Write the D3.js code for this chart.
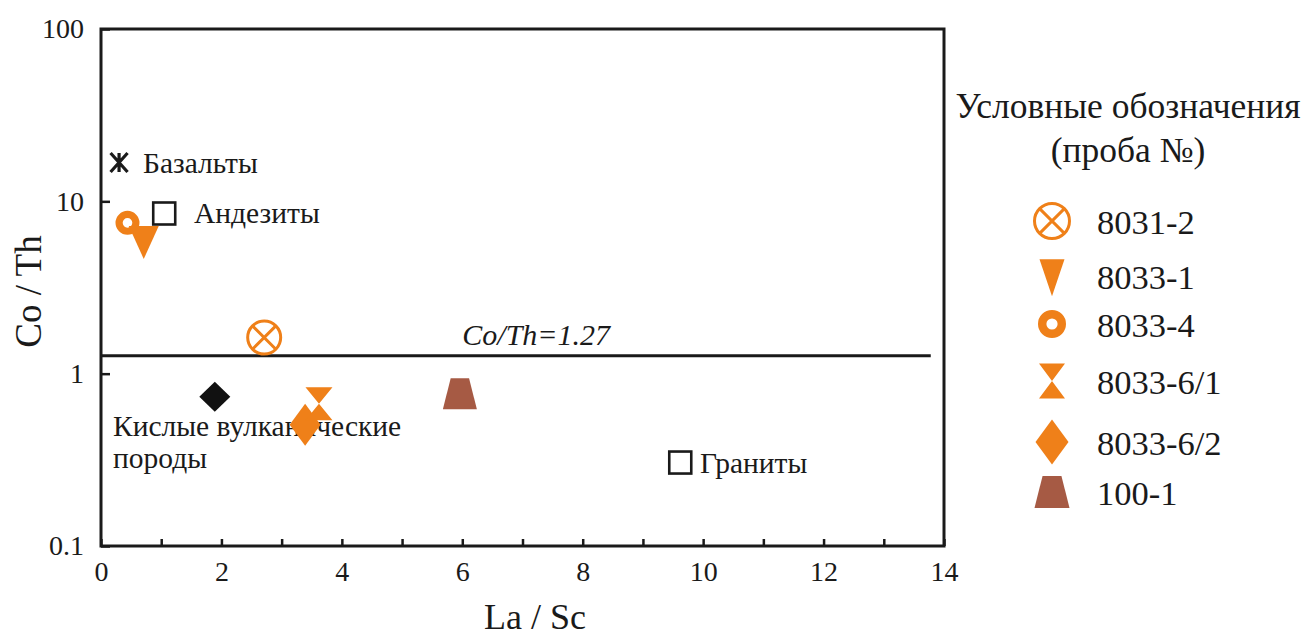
<!DOCTYPE html>
<html><head><meta charset="utf-8">
<script src="https://cdn.jsdelivr.net/npm/d3@7"></script>
<style>body{margin:0;background:#fff;}</style>
</head><body>
<svg id="c" width="1302" height="639"></svg>
<script>
// ---- data ----
const xTicks = [0,1,2,3,4,5,6,7,8,9,10,11,12,13,14];
const xTickLabels = [0,2,4,6,8,10,12,14];
const yTicks = [0.1,1,10,100];
const yTickLabels = ["0.1","1","10","100"];

const samples = ["8031-2","8033-1","8033-4","8033-6/1","8033-6/2","100-1"];
const sampleX = [2.71, 0.71, 0.44, 3.62, 3.39, 5.96];
const sampleY = [1.62, 5.9, 7.5, 0.67, 0.505, 0.765];
const sampleShape = ["circlex","tridown","ring","hourglass","diamond","trapezoid"];
const sampleColor = ["#EF8019","#EF8019","#EF8019","#EF8019","#EF8019","#A65A44"];

const refNames = ["Базальты","Андезиты","Кислые вулканические породы","Граниты"];
const refX = [0.30, 1.05, 1.89, 9.62];
const refY = [16.8, 8.5, 0.735, 0.305];
const refShape = ["asterisk","square","blackdiamond","square"];

const ratioValue = 1.27;
const ratioXRange = [0, 13.78];
const ratioLabelX = 6.0;

// ---- layout ----
const FONT = "'Liberation Serif','Times New Roman',serif";
const svg = d3.select("#c");
const L=101, R=944, T=29, B=546;
const x = d3.scaleLinear().domain([0,14]).range([L,R]);
const y = d3.scaleLog().domain([0.1,100]).range([B,T]);

function txt(xp, yp, s, size, anchor){
  return svg.append("text").attr("x",xp).attr("y",yp).attr("text-anchor",anchor||"start")
    .style("font-family",FONT).style("font-size",size+"px").style("fill","#1a1a1a").text(s);
}

// shapes (size parameters only; positions come from scales)
function shapePath(kind, w, h){
  const p = d3.path();
  switch(kind){
    case "tridown": p.moveTo(-w/2,-h*0.45); p.lineTo(w/2,-h*0.45); p.lineTo(0,h*0.55); p.closePath(); break;
    case "hourglass": p.moveTo(-w/2,-h/2); p.lineTo(w/2,-h/2); p.lineTo(-w/2,h/2); p.lineTo(w/2,h/2); p.closePath(); break;
    case "diamond": case "blackdiamond": p.moveTo(0,-h/2); p.lineTo(w/2,0); p.lineTo(0,h/2); p.lineTo(-w/2,0); p.closePath(); break;
    case "trapezoid": p.moveTo(-w*0.27,-h/2); p.lineTo(w*0.27,-h/2); p.lineTo(w/2,h/2); p.lineTo(-w/2,h/2); p.closePath(); break;
  }
  return p.toString();
}
function drawShape(g, kind, color, w, h){
  if(kind==="circlex"){
    const r=w/2-1.5;
    g.append("circle").attr("r",r).attr("fill","none").attr("stroke",color).attr("stroke-width",3);
    const d=r*0.7071;
    g.append("path").attr("d",`M${-d},${-d}L${d},${d}M${d},${-d}L${-d},${d}`).attr("stroke",color).attr("stroke-width",3);
  } else if(kind==="ring"){
    const sw = w*0.3;
    g.append("circle").attr("r",w/2-sw/2).attr("fill","none").attr("stroke",color).attr("stroke-width",sw);
  } else if(kind==="square"){
    g.append("rect").attr("x",-w/2).attr("y",-h/2).attr("width",w).attr("height",h).attr("fill","none").attr("stroke","#1a1a1a").attr("stroke-width",2.6);
  } else if(kind==="asterisk"){
    g.append("path").attr("d",`M${-w/2},${-h/2}L${w/2},${h/2}M${w/2},${-h/2}L${-w/2},${h/2}M0,${-h/2}L0,${h/2}`).attr("stroke","#1a1a1a").attr("stroke-width",3.2);
  } else if(kind==="blackdiamond"){
    g.append("path").attr("d",shapePath(kind,w,h)).attr("fill","#111");
  } else {
    g.append("path").attr("d",shapePath(kind,w,h)).attr("fill",color);
  }
}
const plotSize = {circlex:[36,36], tridown:[30,33], ring:[24,24], hourglass:[27,33], diamond:[31,42], trapezoid:[34,31], square:[22,22], asterisk:[17,19], blackdiamond:[31,30]};
const legendSize = {circlex:[38,38], tridown:[25,37], ring:[28,28], hourglass:[26,35], diamond:[33,45], trapezoid:[35,32]};

// axes
const xAxis = d3.axisBottom(x).tickValues(xTicks).tickSize(-7).tickPadding(15)
  .tickFormat(d => xTickLabels.includes(d) ? d : "");
const gx = svg.append("g").attr("transform",`translate(0,${B})`).call(xAxis);
gx.select(".domain").remove();
gx.selectAll(".tick line").attr("stroke","#1a1a1a").attr("stroke-width",2.5);
gx.selectAll(".tick text").style("font-family",FONT).style("font-size","28px").style("fill","#1a1a1a");

const yAxis = d3.axisLeft(y).tickValues(yTicks).tickSize(-9).tickPadding(17)
  .tickFormat((d,i) => yTickLabels[i]);
const gy = svg.append("g").attr("transform",`translate(${L},0)`).call(yAxis);
gy.select(".domain").remove();
gy.selectAll(".tick line").attr("stroke","#1a1a1a").attr("stroke-width",2.5);
gy.selectAll(".tick text").style("font-family",FONT).style("font-size","28px").style("fill","#1a1a1a");

// frame
svg.append("rect").attr("x",L).attr("y",T).attr("width",R-L).attr("height",B-T)
  .attr("fill","none").attr("stroke","#1a1a1a").attr("stroke-width",3);

// axis titles
txt(535, 629, "La / Sc", 36, "middle");
svg.append("text").attr("transform",`translate(41,${(T+B)/2+4}) rotate(-90)`).attr("text-anchor","middle")
  .style("font-family",FONT).style("font-size","37px").style("fill","#1a1a1a").text("Co / Th");

// ratio line
svg.append("line").attr("x1",x(ratioXRange[0])).attr("x2",x(ratioXRange[1]))
  .attr("y1",y(ratioValue)).attr("y2",y(ratioValue)).attr("stroke","#1a1a1a").attr("stroke-width",3);
txt(x(ratioLabelX), y(ratioValue)-11, "Co/Th=" + ratioValue, 30, "start").style("font-style","italic");

// reference fields
refNames.forEach((n,i)=>{
  const g = svg.append("g").attr("transform",`translate(${x(refX[i])},${y(refY[i])})`);
  const sz = plotSize[refShape[i]];
  drawShape(g, refShape[i], "#111", sz[0], sz[1]);
});
txt(143, y(refY[0])+10, refNames[0], 29.5);
txt(194, y(refY[1])+10, refNames[1], 29.5);
txt(113, 436, "Кислые вулканические", 29.5);
txt(113, 468, "породы", 29.5);
txt(700, y(refY[3])+10, refNames[3], 29.5);

// samples
const order=[2,1,0,4,3,5];
order.forEach(i=>{
  const g = svg.append("g").attr("transform",`translate(${x(sampleX[i])},${y(sampleY[i])})`);
  const sz = plotSize[sampleShape[i]];
  drawShape(g, sampleShape[i], sampleColor[i], sz[0], sz[1]);
});

// legend
txt(1128, 118, "Условные обозначения", 35.5, "middle");
txt(1128, 162, "(проба №)", 35.5, "middle");
const legY = [221, 276, 324, 381, 442, 492];
samples.forEach((n,i)=>{
  const g = svg.append("g").attr("transform",`translate(1052,${legY[i]})`);
  const sz = legendSize[sampleShape[i]];
  drawShape(g, sampleShape[i], sampleColor[i], sz[0], sz[1]);
  txt(1097, legY[i]+13, n, 34.5);
});
</script>
</body></html>
